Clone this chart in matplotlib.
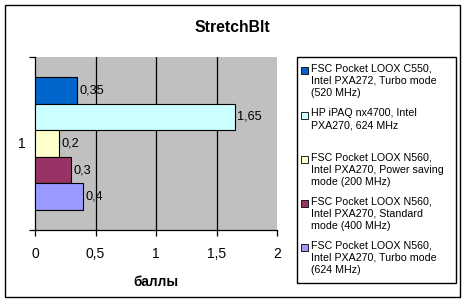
import matplotlib
matplotlib.use("Agg")
import matplotlib.pyplot as plt
from matplotlib.patches import Rectangle

plt.rcParams['font.family'] = ['Liberation Sans', 'DejaVu Sans']

title = "StretchBlt"
xlabel = "баллы"
category = "1"
series_labels = [
    "FSC Pocket LOOX C550,\nIntel PXA272, Turbo mode\n(520 MHz)",
    "HP iPAQ nx4700, Intel\nPXA270, 624 MHz",
    "FSC Pocket LOOX N560,\nIntel PXA270, Power saving\nmode (200 MHz)",
    "FSC Pocket LOOX N560,\nIntel PXA270, Standard\nmode (400 MHz)",
    "FSC Pocket LOOX N560,\nIntel PXA270, Turbo mode\n(624 MHz)",
]
values = [0.35, 1.65, 0.2, 0.3, 0.4]
value_labels = ["0,35", "1,65", "0,2", "0,3", "0,4"]
colors = ["#0066CC", "#CCFFFF", "#FFFFCC", "#993366", "#9999FF"]
xticks = [0, 0.5, 1, 1.5, 2]
xtick_labels = ["0", "0,5", "1", "1,5", "2"]

W, H = 465, 303
fig = plt.figure(figsize=(W / 100, H / 100), dpi=100)
fig.patch.set_facecolor("white")

# outer frame
fig.patches.append(Rectangle((5 / W, 1 - 297 / H), 455 / W, 292 / H,
                             transform=fig.transFigure, fill=False,
                             edgecolor="black", linewidth=1))

ax = fig.add_axes([35 / W, 1 - 230 / H, (277 - 35) / W, (230 - 57) / H])
ax.set_facecolor("#C0C0C0")

n = len(values)
group = 0.77
bh = group / n
for i, (v, c, lab) in enumerate(zip(values, colors, value_labels)):
    y = 0.5 + group / 2 - bh * (i + 0.5)
    ax.barh(y, v, height=bh, color=c, edgecolor="black", linewidth=0.8, zorder=3)
    ax.text(v + 0.018, y, lab, va="center", ha="left", fontsize=9.2, zorder=4)

ax.set_xlim(0, 2)
ax.set_ylim(0, 1)
ax.set_xticks(xticks)
ax.set_xticklabels(xtick_labels, fontsize=10)
ax.set_yticks([0, 1])
ax.set_yticklabels([])
ax.text(-0.054, 0.5, category, transform=ax.transAxes, ha="center",
        va="center", fontsize=10)
for xv in xticks[1:-1]:
    ax.axvline(xv, color="black", linewidth=0.9, zorder=1)
for s in ["top", "right"]:
    ax.spines[s].set_visible(False)
ax.spines["left"].set_linewidth(0.9)
ax.spines["bottom"].set_linewidth(0.9)
ax.tick_params(axis="x", direction="out", length=4, width=0.9, pad=8)
ax.tick_params(axis="y", direction="out", length=4, width=0.9)
ax.set_xlabel(xlabel, fontsize=9.8, fontweight="bold", labelpad=10)

fig.text(232 / W, 1 - 27 / H, title, ha="center", va="center",
         fontsize=11.3, fontweight="bold")

# legend
fig.patches.append(Rectangle((297 / W, 1 - 283 / H), (456 - 297) / W, (283 - 57) / H,
                             transform=fig.transFigure, fill=True, facecolor="white",
                             edgecolor="black", linewidth=1))
first_line_y = [70, 115, 159, 203, 247]
for lab, c, yy in zip(series_labels, colors, first_line_y):
    fig.patches.append(Rectangle((301 / W, 1 - (yy + 3.5) / H), 7 / W, 7 / H,
                                 transform=fig.transFigure, facecolor=c,
                                 edgecolor="black", linewidth=0.6))
    fig.text(311 / W, 1 - (yy - 6.5) / H, lab, ha="left", va="top",
             fontsize=7.7, linespacing=1.3)

fig.savefig("out.png", dpi=100)
